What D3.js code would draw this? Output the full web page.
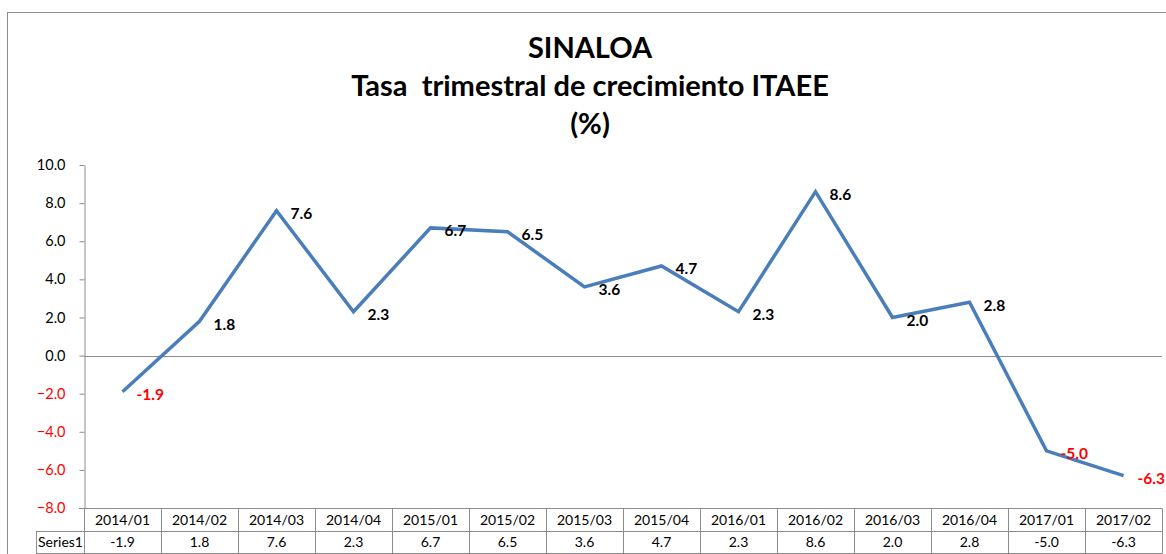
<!DOCTYPE html>
<html>
<head>
<meta charset="utf-8">
<script src="https://d3js.org/d3.v7.min.js"></script>
<style>
  body { margin: 0; background: #fff; }
  text { font-family: Lato, "Open Sans", sans-serif; }
</style>
</head>
<body>
<div id="chart"></div>
<script>
// Data
// ==============================
var periods = ["2014/01", "2014/02", "2014/03", "2014/04", "2015/01", "2015/02", "2015/03",
  "2015/04", "2016/01", "2016/02", "2016/03", "2016/04", "2017/01", "2017/02"];
var growth = [-1.9, 1.8, 7.6, 2.3, 6.7, 6.5, 3.6, 4.7, 2.3, 8.6, 2.0, 2.8, -5.0, -6.3];
var yTicks = [-8, -6, -4, -2, 0, 2, 4, 6, 8, 10];
var seriesName = "Series1";
var titleLines = ["SINALOA", "Tasa  trimestral de crecimiento ITAEE", "(%)"];

var svgWidth = 1166;
var svgHeight = 554;

var svg = d3.select("#chart")
  .append("svg")
  .attr("width", svgWidth)
  .attr("height", svgHeight);

// outer chart border (runs off the right / bottom edge)
svg.append("rect")
  .attr("x", 7.5)
  .attr("y", 12.5)
  .attr("width", 1200)
  .attr("height", 600)
  .attr("fill", "none")
  .attr("stroke", "#8c8c8c");

// Title
// ==============================
svg.append("g").selectAll("text")
  .data(titleLines)
  .enter()
  .append("text")
  .attr("x", 590)
  .attr("y", (d, i) => 58 + i * 38)
  .attr("text-anchor", "middle")
  .attr("font-size", "29px")
  .attr("font-weight", "bold")
  .attr("fill", "#000")
  .style("white-space", "pre")
  .text(d => d);

// Scales
// ==============================
var x = d3.scaleBand()
  .domain(periods)
  .range([84, 1162])
  .padding(0);

var y = d3.scaleLinear()
  .domain([-8, 10])
  .range([508, 165]);

// Y axis
// ==============================
var leftAxis = d3.axisLeft(y)
  .tickValues(yTicks)
  .tickFormat(d3.format(".1f"))
  .tickSizeInner(5)
  .tickSizeOuter(0)
  .tickPadding(14);

var yAxisG = svg.append("g")
  .attr("transform", "translate(84.5,0)")
  .call(leftAxis);

yAxisG.select(".domain").attr("stroke", "#8c8c8c");
yAxisG.selectAll(".tick line").attr("stroke", "#8c8c8c");
yAxisG.selectAll(".tick text")
  .attr("font-size", "14.5px")
  .attr("font-family", "Lato, sans-serif")
  .attr("fill", d => d < 0 ? "#ff0000" : "#000");

// zero line
svg.append("line")
  .attr("x1", 84)
  .attr("x2", x.range()[1])
  .attr("y1", Math.round(y(0)) + 0.5)
  .attr("y2", Math.round(y(0)) + 0.5)
  .attr("stroke", "#8c8c8c");

// Line
// ==============================
var line = d3.line()
  .x((d, i) => x(periods[i]) + x.bandwidth() / 2)
  .y(d => y(d));

svg.append("path")
  .datum(growth)
  .attr("d", line)
  .attr("fill", "none")
  .attr("stroke", "#4a7ebb")
  .attr("stroke-width", 3.5)
  .attr("stroke-linejoin", "miter");

// data labels
svg.append("g").selectAll("text")
  .data(growth)
  .enter()
  .append("text")
  .attr("x", (d, i) => x(periods[i]) + x.bandwidth() / 2 + 14)
  .attr("y", d => y(d) + 3)
  .attr("dy", "0.35em")
  .attr("font-size", "15.5px")
  .attr("font-weight", "bold")
  .attr("fill", d => d < 0 ? "#ff0000" : "#000")
  .text(d => d.toFixed(1));

// Data table
// ==============================
var rowTop = 508.5, rowMid = 531.5, rowBot = 553.5;
var tableG = svg.append("g")
  .attr("stroke", "#8c8c8c")
  .attr("fill", "none");

// horizontal rules
tableG.append("line").attr("x1", 84).attr("x2", x.range()[1]).attr("y1", rowTop).attr("y2", rowTop);
tableG.append("line").attr("x1", 36).attr("x2", x.range()[1]).attr("y1", rowMid).attr("y2", rowMid);
tableG.append("line").attr("x1", 36).attr("x2", x.range()[1]).attr("y1", rowBot).attr("y2", rowBot);
// -8 tick stub
tableG.append("line").attr("x1", 79).attr("x2", 84).attr("y1", rowTop).attr("y2", rowTop);

// vertical rules
var edges = periods.map(p => Math.round(x(p)) + 0.5).concat([Math.round(x.range()[1]) + 0.5]);
tableG.selectAll("line.v")
  .data(edges)
  .enter()
  .append("line")
  .attr("class", "v")
  .attr("x1", d => d)
  .attr("x2", d => d)
  .attr("y1", rowTop)
  .attr("y2", rowBot);
tableG.append("line").attr("x1", 36.5).attr("x2", 36.5).attr("y1", rowMid).attr("y2", rowBot);

// header labels
svg.append("g").selectAll("text")
  .data(periods)
  .enter()
  .append("text")
  .attr("x", d => x(d) + x.bandwidth() / 2)
  .attr("y", (rowTop + rowMid) / 2)
  .attr("dy", "0.35em")
  .attr("text-anchor", "middle")
  .attr("font-size", "14px")
  .attr("fill", "#000")
  .text(d => d);

// value row
svg.append("g").selectAll("text")
  .data(growth)
  .enter()
  .append("text")
  .attr("x", (d, i) => x(periods[i]) + x.bandwidth() / 2)
  .attr("y", (rowMid + rowBot) / 2)
  .attr("dy", "0.35em")
  .attr("text-anchor", "middle")
  .attr("font-size", "14px")
  .attr("fill", "#000")
  .text(d => d.toFixed(1));

svg.append("text")
  .attr("x", 38)
  .attr("y", (rowMid + rowBot) / 2)
  .attr("dy", "0.35em")
  .attr("font-size", "14px")
  .attr("fill", "#000")
  .text(seriesName);
</script>
</body>
</html>
